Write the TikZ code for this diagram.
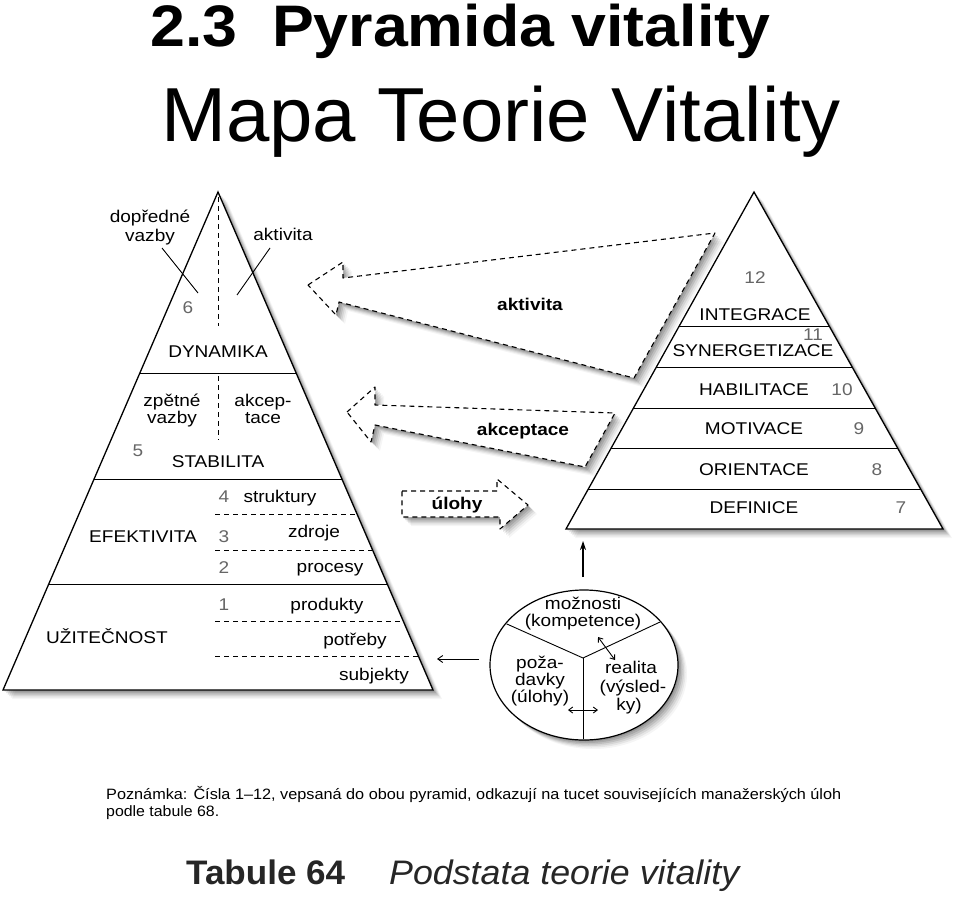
\documentclass[tikz,border=0pt]{standalone}
\usepackage{fontspec}
\usepackage{graphicx}
\setmainfont{Liberation Sans}
\newfontfamily\dg[FakeStretch=1.12]{Liberation Sans}
\usetikzlibrary{arrows.meta,shapes.geometric}
\newcommand\softshadow[1]{%
  \foreach \dd/\op in {1.5/0.12,3/0.11,4.5/0.10,6/0.08,7.5/0.06,9/0.04}{%
    \fill[black,opacity=\op,shift={(\dd,\dd)},#1];}}
\begin{document}
\begin{tikzpicture}[x=1pt,y=-1pt,
  lab/.style={font=\dg\fontsize{17}{19}\selectfont, inner sep=0pt, text height=12pt, text depth=2pt},
  num/.style={lab, text=black!60},
  blab/.style={lab, font=\dg\bfseries\fontsize{17}{19}\selectfont},
  edge/.style={line width=1.3pt, line join=miter},
  sepl/.style={line width=0.9pt},
  dsep/.style={line width=0.9pt, dash pattern=on 5pt off 4pt},
  darrow/.style={line width=1.1pt, dash pattern=on 5pt off 4pt, line join=round, fill=white},
  lpyr/.style={insert path={(218,192)--(3,690)--(433,690)--cycle}},
  rpyr/.style={insert path={(754,192)--(566,529)--(943,529)--cycle}},
  aktp/.style={insert path={(308,285)--(343,262)--(343,278)--(715,233)--(634,378)--(339,302)--(336,315)--cycle}},
  akcp/.style={insert path={(347,412)--(375,387)--(375,405)--(615,413)--(585,467)--(375,425)--(371,442)--cycle}},
  ulop/.style={insert path={(402,491)--(497,491)--(497,479)--(528,505)--(500,529)--(500,517)--(402,517)--cycle}},
  circp/.style={insert path={(584,665) ellipse [x radius=94, y radius=75]}},
  smallarr/.style={line width=0.9pt, {Straight Barb[length=4pt,width=6pt]}-{Straight Barb[length=4pt,width=6pt]}}
]
\useasboundingbox (0,0) rectangle (960,896);
\fill[white] (0,0) rectangle (960,896);

% titles
\node[anchor=base west, inner sep=0pt] (t1) at (150,47)
  {\resizebox{620pt}{\height}{\fontsize{58.6}{60}\selectfont\bfseries 2.3\ \ Pyramida vitality}};
\node[anchor=base west, inner sep=0pt] (t2) at (161,142)
  {\resizebox{679pt}{\height}{\fontsize{76.6}{80}\selectfont Mapa Teorie Vitality}};

% shadows
\softshadow{aktp}
\softshadow{akcp}
\softshadow{ulop}
\softshadow{lpyr}
\softshadow{rpyr}
\softshadow{circp}

% left pyramid
\filldraw[fill=white, draw=black, edge, lpyr];
\draw[sepl] (139.9,373) -- (296.1,373);
\draw[sepl] (94.1,479) -- (341.9,479);
\draw[sepl] (48.8,584) -- (387.2,584);
\draw[dsep] (218,197) -- (218,326);
\draw[dsep] (218,376) -- (218,440);
\draw[dsep] (215,514) -- (357.0,514);
\draw[dsep] (215,550) -- (372.6,550);
\draw[dsep] (215,621) -- (403.2,621);
\draw[dsep] (215,656) -- (418.3,656);
\draw[sepl] (162,248) -- (198,293);
\draw[sepl] (270,248) -- (237,295);

\node[lab] (ldopr) at (150,217) {dopředné};
\node[lab] (ldvaz) at (150,236) {vazby};
\node[lab] (lakt) at (283,235) {aktivita};
\node[num] (l6) at (188,308) {6};
\node[lab] (ldyn) at (218,352) {DYNAMIKA};
\node[lab] (lzpe) at (172,401) {zpětné};
\node[lab] (lzvaz) at (172,418) {vazby};
\node[lab] (lakc1) at (263,401) {akcep-};
\node[lab] (lakc2) at (263,418) {tace};
\node[num] (l5) at (138,451) {5};
\node[lab] (lsta) at (218,462) {STABILITA};
\node[num] (l4) at (224,497) {4};
\node[lab] (lstr) at (280,497) {struktury};
\node[lab] (lefe) at (143,537) {EFEKTIVITA};
\node[num] (l3) at (224,537) {3};
\node[lab] (lzdr) at (314,532) {zdroje};
\node[num] (l2) at (224,568) {2};
\node[lab] (lpro) at (330,567) {procesy};
\node[num] (l1) at (224,605) {1};
\node[lab] (lprod) at (327,605) {produkty};
\node[lab] (luzi) at (107,638) {UŽITEČNOST};
\node[lab] (lpot) at (355,640) {potřeby};
\node[lab] (lsub) at (374,675) {subjekty};

% right pyramid
\filldraw[fill=white, draw=black, edge, rpyr];
\draw[sepl] (679.2,326) -- (829.2,326);
\draw[sepl] (656.4,367) -- (852.1,367);
\draw[sepl] (633.5,408) -- (875.1,408);
\draw[sepl] (611.2,448) -- (897.6,448);
\draw[sepl] (588.3,489) -- (920.6,489);

\node[num] (r12) at (755,278) {12};
\node[lab] (rint) at (755,315) {INTEGRACE};
\node[num] (r11) at (813,335) {11};
\node[lab] (rsyn) at (753,351) {SYNERGETIZACE};
\node[lab] (rhab) at (754,390) {HABILITACE};
\node[num] (r10) at (842,390) {10};
\node[lab] (rmot) at (754,429) {MOTIVACE};
\node[num] (r9) at (859,429) {9};
\node[lab] (rori) at (754,470) {ORIENTACE};
\node[num] (r8) at (877,470) {8};
\node[lab] (rdef) at (754,508) {DEFINICE};
\node[num] (r7) at (901,508) {7};

% dashed block arrows
\filldraw[darrow, aktp];
\filldraw[darrow, akcp];
\filldraw[darrow, ulop];
\node[blab] (aakt) at (530,305) {aktivita};
\node[blab] (aakc) at (523,430) {akceptace};
\node[blab] (aulo) at (457,504) {úlohy};

% circle
\node[draw, fill=white, ellipse, line width=1.2pt, minimum width=188pt, minimum height=150pt, inner sep=0pt] (circ) at (584,665) {};
\begin{scope}
  \clip (584,665) ellipse [x radius=93, y radius=74];
  \draw[sepl] (583,658) -- (480,612);
  \draw[sepl] (583,658) -- (690,608);
  \draw[sepl] (583,658) -- (583,745);
\end{scope}
\node[lab] (cmoz) at (583,604) {možnosti};
\node[lab] (ckom) at (583,621) {(kompetence)};
\node[lab] (cpoz) at (540,663) {poža-};
\node[lab] (cdav) at (540,680) {davky};
\node[lab] (culo) at (540,697) {(úlohy)};
\node[lab] (creal) at (631,668) {realita};
\node[lab] (cvys) at (633,687) {(výsled-};
\node[lab] (cky) at (629,705) {ky)};

\coordinate (d1a) at (598,637);
\coordinate (d1b) at (615,660);
\coordinate (d2a) at (568,710);
\coordinate (d2b) at (598,710);
\draw[smallarr] (d1a) -- (d1b);
\draw[smallarr] (d2a) -- (d2b);

% connectors
\coordinate (cupS) at (583,577);
\coordinate (cupE) at (583,541);
\draw[line width=1.1pt, -{Stealth[length=9pt,width=6pt]}] (cupS) -- (cupE);
\coordinate (clS) at (479,659);
\coordinate (clE) at (437,659);
\draw[line width=0.9pt, -{Straight Barb[length=5pt,width=7pt]}] (clS) -- (clE);

% note and caption
\node[anchor=base west, inner sep=0pt] (note1) at (106,799)
  {\resizebox{735pt}{\height}{\fontsize{15}{17}\selectfont Poznámka: Čísla 1–12, vepsaná do obou pyramid, odkazují na tucet souvisejících manažerských úloh}};
\node[anchor=base west, inner sep=0pt] (note2) at (106,816)
  {\resizebox{113pt}{\height}{\fontsize{15}{17}\selectfont podle tabule 68.}};
\node[anchor=base west, inner sep=0pt, text=black!85] (cap1) at (186,884)
  {\resizebox{159pt}{\height}{\fontsize{34}{36}\selectfont\bfseries Tabule 64}};
\node[anchor=base west, inner sep=0pt, text=black!85] (cap2) at (389,884)
  {\resizebox{350pt}{\height}{\fontsize{34}{36}\selectfont\itshape Podstata teorie vitality}};
\end{tikzpicture}
\end{document}
